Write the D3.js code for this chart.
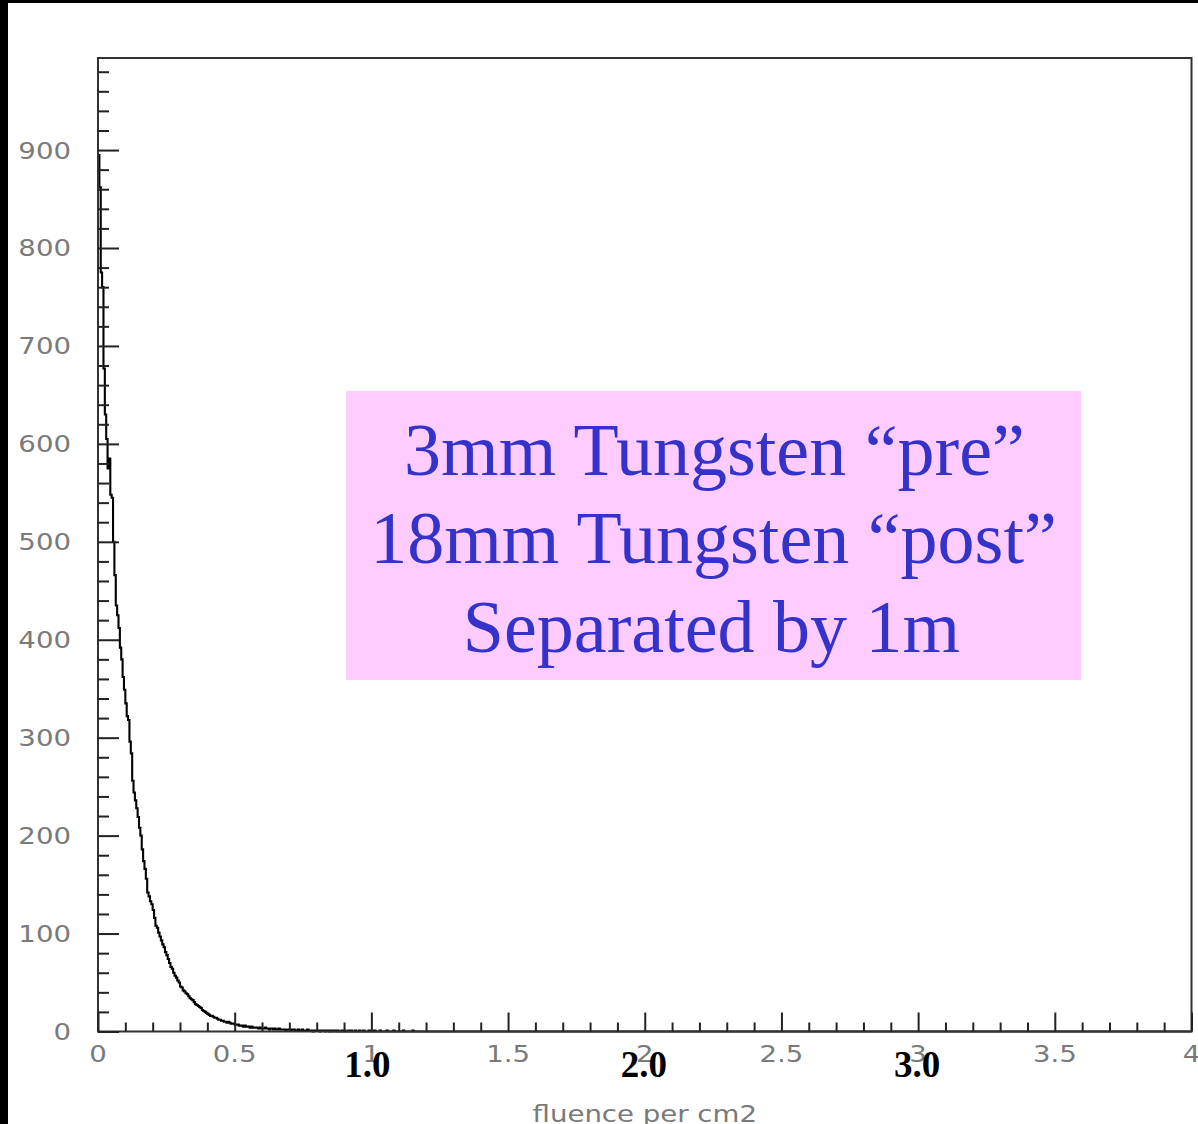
<!DOCTYPE html>
<html><head><meta charset="utf-8">
<script src="https://cdn.jsdelivr.net/npm/d3@7"></script>
<style>html,body{margin:0;padding:0;background:#fff;}svg{display:block;}</style>
</head><body>
<script>
// ---- data ----
const binWidth = 0.005;
const binCounts = [
895,862,775,760,677,630,605,575,585,548,
545,500,466,435,425,412,392,380,362,349,
335,322,318,296,284,256,244,236,228,219,
208,200,186,174,166,156,142,138,133,130,
124,116,108,106,101,97,93,89,86,81,
78,74,70,66,64,60,57,55,52,50,
46,45,42,41,39,38,36,34,33,32,
30,28,27,26,25,24,22,21,20,19,
18,17,16,16,15,14,14,13,12,12,
11,11,10,10,9,10,9,8,8,8,
7,7,7,6,6,6,5,6,5,5,
5,4,5,4,4,4,4,3,4,3,
3,3,4,3,3,2,3,3,2,3,
2,2,3,2,2,2,2,1,2,2,
2,1,2,2,1,1,2,1,1,2,
1,1,1,2,1,1,1,0,1,1,
1,1,0,1,1,1,0,1,1,0,
1,0,1,1,0,1,0,0,1,0,
1,0,0,1,0,1,0,0,1,0,
0,1,0,0,1,0,0,0,1,0,
0,0,1,0,0,0,1,0,0,0,
0,1,0,0,0,0,1,0,0,0,
0,0,0,1,0,0,0,0,0,0,
1,0,0,0,0,0,0,0,0,0
];
const xDomain = [0, 4];
const yDomain = [0, 994];
const xTickLabels = [0, 0.5, 1, 1.5, 2, 2.5, 3, 3.5, 4];
const yTickLabels = [0, 100, 200, 300, 400, 500, 600, 700, 800, 900];
const xTitle = "fluence per cm2";
const overlayLabels = [{v: 1, t: "1.0"}, {v: 2, t: "2.0"}, {v: 3, t: "3.0"}];
const noteLines = ["3mm Tungsten \u201Cpre\u201D", "18mm Tungsten \u201Cpost\u201D", "Separated by 1m"];

// ---- drawing ----
const W = 1198, H = 1124;
const L = 98, R = 1191.5, T = 58, B = 1031.5;
const svg = d3.select("body").append("svg").attr("width", W).attr("height", H);
svg.append("rect").attr("width", W).attr("height", H).attr("fill", "#fff");
// black border bands
svg.append("rect").attr("x", 0).attr("y", 0).attr("width", W).attr("height", 3).attr("fill", "#000");
svg.append("rect").attr("x", 0).attr("y", 0).attr("width", 8).attr("height", H).attr("fill", "#000");

const x = d3.scaleLinear().domain(xDomain).range([L, R]);
const y = d3.scaleLinear().domain(yDomain).range([B, T]);

// annotation box
const boxX0 = 346, boxX1 = 1081, boxY0 = 391, boxY1 = 680;
svg.append("rect").attr("x", boxX0).attr("y", boxY0).attr("width", boxX1 - boxX0).attr("height", boxY1 - boxY0)
  .attr("fill", "#FFCCFF");
const noteBase = [475, 563, 652];
const noteDx = [0, -1, -3];
svg.selectAll("text.note").data(noteLines).enter().append("text")
  .attr("class", "note")
  .attr("x", (d, i) => (boxX0 + boxX1) / 2 + 1 + noteDx[i])
  .attr("y", (d, i) => noteBase[i])
  .attr("text-anchor", "middle")
  .attr("font-family", "'Liberation Serif','Times New Roman',serif")
  .attr("font-size", 74)
  .attr("fill", "#3333CC")
  .text(d => d);

// histogram step line
const pts = [];
binCounts.forEach((c, i) => { pts.push([i * binWidth, c]); });
pts.push([binCounts.length * binWidth, 0]);
pts.push([xDomain[1], 0]);
const line = d3.line().x(d => x(d[0])).y(d => y(d[1])).curve(d3.curveStepAfter);
svg.append("path").attr("d", line(pts)).attr("fill", "none").attr("stroke", "#000").attr("stroke-width", 2.1);

// frame
svg.append("rect").attr("x", L).attr("y", T).attr("width", R - L).attr("height", B - T)
  .attr("fill", "none").attr("stroke", "#333").attr("stroke-width", 2);

// x ticks (inside, upward)
const xMinor = d3.range(0, 40 + 1).map(i => i / 10);
const gx = svg.append("g").attr("transform", `translate(0,${B})`);
gx.call(d3.axisTop(x).tickValues(xMinor).tickSize(0).tickFormat(""));
gx.select(".domain").remove();
gx.selectAll(".tick line").attr("stroke", "#222").attr("stroke-width", 2)
  .attr("y2", (d) => (Math.abs(d * 2 - Math.round(d * 2)) < 1e-6) ? -19 : -9);

// y ticks (inside, rightward)
const yMinor = d3.range(0, 50).map(i => i * 20).filter(v => v <= yDomain[1]);
const gy = svg.append("g").attr("transform", `translate(${L},0)`);
gy.call(d3.axisRight(y).tickValues(yMinor).tickSize(0).tickFormat(""));
gy.select(".domain").remove();
gy.selectAll(".tick line").attr("stroke", "#222").attr("stroke-width", 2)
  .attr("x2", d => (d % 100 === 0) ? 21 : 11);

// tick labels
const labFont = "'DejaVu Sans', sans-serif";
svg.selectAll("text.xl").data(xTickLabels).enter().append("text")
  .attr("class", "xl")
  .attr("transform", d => `translate(${x(d)},1062) scale(1.2,1)`)
  .attr("text-anchor", "middle")
  .attr("font-family", labFont).attr("font-size", 23).attr("fill", "#7a7a7a")
  .text(d => d3.format("")(d));
svg.selectAll("text.yl").data(yTickLabels).enter().append("text")
  .attr("class", "yl")
  .attr("transform", d => `translate(71,${y(d) + 8.5}) scale(1.2,1)`)
  .attr("text-anchor", "end")
  .attr("font-family", labFont).attr("font-size", 23).attr("fill", "#7a7a7a")
  .text(d => d);
svg.append("text")
  .attr("transform", `translate(${x(2)},1122) scale(1.2,1)`)
  .attr("text-anchor", "middle")
  .attr("font-family", labFont).attr("font-size", 23).attr("fill", "#7a7a7a")
  .text(xTitle);

// bold overlay labels
const ovDx = [-4, -1, -1];
svg.selectAll("text.ov").data(overlayLabels).enter().append("text")
  .attr("class", "ov")
  .attr("x", (d, i) => x(d.v) + ovDx[i])
  .attr("y", 1077)
  .attr("text-anchor", "middle")
  .attr("font-family", "'Liberation Serif','Times New Roman',serif")
  .attr("font-weight", "bold").attr("font-size", 37).attr("fill", "#000")
  .text(d => d.t);
</script>
</body></html>
